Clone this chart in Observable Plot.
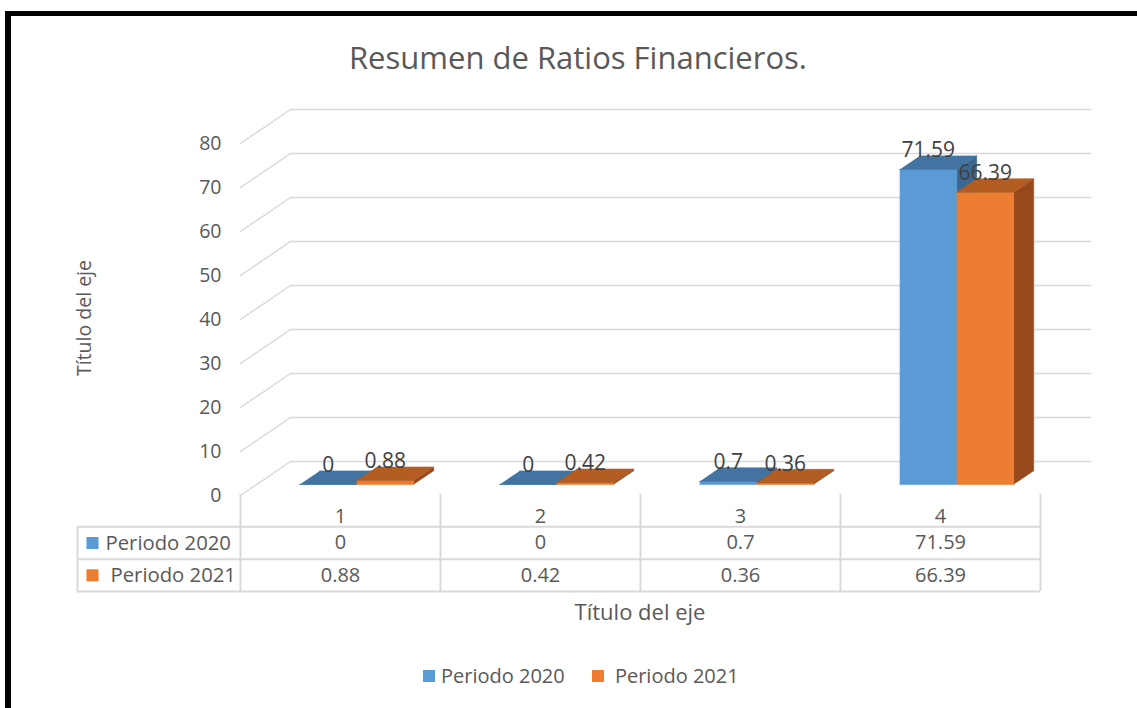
<!DOCTYPE html>
<html>
<head>
<meta charset="utf-8">
<script src="https://cdn.jsdelivr.net/npm/d3@7"></script>
<script src="https://cdn.jsdelivr.net/npm/@observablehq/plot@0.6"></script>
<style>
  html, body { margin: 0; padding: 0; background: #fff; }
  body { width: 1137px; height: 708px; position: relative; overflow: hidden; font-family: "Open Sans", Lato, sans-serif; color: #595959; }
  #frame { position: absolute; left: 5px; top: 11px; width: 1200px; height: 800px; border-top: 5px solid #000; border-left: 6px solid #000; }
  #title { position: absolute; left: 0; width: 1156px; top: 57px; transform: translateY(-50%); text-align: center; font-size: 31px; color: #595959; line-height: 1; }
  #ytitle { position: absolute; left: 83px; top: 318px; transform: translate(-50%, -50%) rotate(-90deg); font-size: 19.5px; white-space: nowrap; }
  #xtitle { position: absolute; left: 640px; top: 611px; transform: translate(-50%, -50%); font-size: 22px; white-space: nowrap; }
  #chart { position: absolute; left: 0; top: 90px; }
  #table { position: absolute; left: 0; top: 494px; }
  #chart svg, #table svg { overflow: visible; }
  #legend { position: absolute; top: 676px; left: 423px; transform: translateY(-50%); font-size: 20px; display: flex; align-items: center; white-space: nowrap; line-height: 1; }
  .sw { display: inline-block; width: 12px; height: 12px; margin-right: 6px; }
</style>
</head>
<body>
<div id="frame"></div>
<div id="title">Resumen de Ratios Financieros.</div>
<div id="ytitle">Título del eje</div>
<div id="chart"></div>
<div id="table"></div>
<div id="xtitle">Título del eje</div>
<div id="legend"></div>
<script>
// ---- data ----
const categories = ["1", "2", "3", "4"];
const seriesNames = ["Periodo 2020", "Periodo 2021"];
const values2020 = [0, 0, 0.7, 71.59];
const values2021 = [0.88, 0.42, 0.36, 66.39];
const yTicks = [0, 10, 20, 30, 40, 50, 60, 70, 80];
const frontColors = ["#5B9BD5", "#ED7D31"];
const topColors = ["#4373A0", "#B35D22"];
const sideColors = ["#3C6790", "#97491B"];

// ---- 3D projection (depth z in 0..1 -> offsets in data units) ----
const DX = 0.25;      // x-units shift from front to back wall
const DY = 34 / 4.4;  // y-units shift from front to back wall
const zF = 0.324, zB = 0.724;   // bar depth extent
const barW = 0.285;
const P = (x, y, z) => ({x: x + z * DX, y: y + z * DY});

const seriesValues = [values2020, values2021];

// grid polylines (front diagonal + back wall line)
const gridPts = [];
yTicks.forEach(t => {
  [P(0, t, 0), P(0, t, 1), P(4, t, 1)].forEach(p => gridPts.push({...p, id: "g" + t}));
});

// bar faces as polygons
const polys = [];
const labels = [];
categories.forEach((c, i) => {
  seriesValues.forEach((vals, s) => {
    const v = vals[i];
    const x0 = i + 0.5 - barW + s * barW, x1 = x0 + barW;
    const id = `b${i}_${s}`;
    const faces = [
      {k: "side", color: sideColors[s], pts: [P(x1, 0, zF), P(x1, v, zF), P(x1, v, zB), P(x1, 0, zB)]},
      {k: "front", color: frontColors[s], pts: [P(x0, 0, zF), P(x1, 0, zF), P(x1, v, zF), P(x0, v, zF)]},
      {k: "top", color: topColors[s], pts: [P(x0, v, zF), P(x1, v, zF), P(x1, v, zB), P(x0, v, zB)]}
    ];
    faces.forEach(f => f.pts.forEach(p => polys.push({...p, id: id + f.k, color: f.color})));
    const c0 = P((x0 + x1) / 2, v, zF);
    labels.push({x: c0.x, y: c0.y, text: String(v)});
  });
});

const font = "'Open Sans', Lato, sans-serif";

const chart = Plot.plot({
  width: 1137, height: 410,
  marginLeft: 240, marginRight: 97, marginTop: 53, marginBottom: 5,
  x: {domain: [0, 4], axis: null},
  y: {domain: [0, 80], axis: null},
  color: {type: "identity"},
  style: {fontFamily: font, color: "#595959", background: "transparent"},
  marks: [
    Plot.line(gridPts, {x: "x", y: "y", z: "id", stroke: "#D9D9D9", strokeWidth: 1.5}),
    Plot.text(yTicks, {x: 0, y: d => d, dx: -19, textAnchor: "end", text: d => String(d), fontSize: 19.5, fill: "#595959"}),
    Plot.line(polys, {x: "x", y: "y", z: "id", fill: "color", stroke: "color", strokeWidth: 0.6}),
    Plot.text(labels, {x: "x", y: "y", text: "text", dy: -19, fontSize: 21, fill: "#404040"})
  ]
});
document.getElementById("chart").appendChild(chart);

// ---- data table ----
const leftX = -0.815;
const headerText = categories.map((c, i) => ({x: i + 0.5, y: 0.5, text: c}));
const cellText = [];
categories.forEach((c, i) => {
  cellText.push({x: i + 0.5, y: 1.5, text: String(values2020[i])});
  cellText.push({x: i + 0.5, y: 2.5, text: String(values2021[i])});
});
const rowLabels = seriesNames.map((n, s) => ({x: leftX + (s === 0 ? 0.14 : 0.165), y: 1.5 + s, text: n}));
const swatches = seriesNames.map((n, s) => ({x: leftX + 0.075, y: 1.5 + s, color: frontColors[s]}));

const table = Plot.plot({
  width: 1137, height: 100,
  marginLeft: 240, marginRight: 97, marginTop: 0, marginBottom: 3,
  x: {domain: [0, 4], axis: null},
  y: {domain: [0, 3], reverse: true, axis: null},
  color: {type: "identity"},
  style: {fontFamily: font, color: "#595959", background: "transparent"},
  marks: [
    Plot.ruleX([0, 1, 2, 3, 4], {y1: 0, y2: 3, stroke: "#D9D9D9", strokeWidth: 2}),
    Plot.ruleX([leftX], {y1: 1, y2: 3, stroke: "#D9D9D9", strokeWidth: 2}),
    Plot.ruleY([1, 2, 3], {x1: leftX, x2: 4, stroke: "#D9D9D9", strokeWidth: 2}),
    Plot.text(headerText, {x: "x", y: "y", text: "text", dy: 6, fontSize: 20, fill: "#595959"}),
    Plot.text(cellText, {x: "x", y: "y", text: "text", fontSize: 20, fill: "#595959"}),
    Plot.dot(swatches, {x: "x", y: "y", symbol: "square", r: 6.8, fill: "color", stroke: null}),
    Plot.text(rowLabels, {x: "x", y: "y", text: "text", textAnchor: "start", fontSize: 20.3, fill: "#595959"})
  ]
});
document.getElementById("table").appendChild(table);

// ---- legend ----
const legend = document.getElementById("legend");
seriesNames.forEach((n, s) => {
  const item = document.createElement("span");
  item.style.display = "inline-flex";
  item.style.alignItems = "center";
  item.style.marginRight = s === 0 ? "27px" : "0";
  item.innerHTML = `<span class="sw" style="background:${frontColors[s]}"></span>${s === 1 ? "&nbsp;" : ""}${n}`;
  legend.appendChild(item);
});
</script>
</body>
</html>
